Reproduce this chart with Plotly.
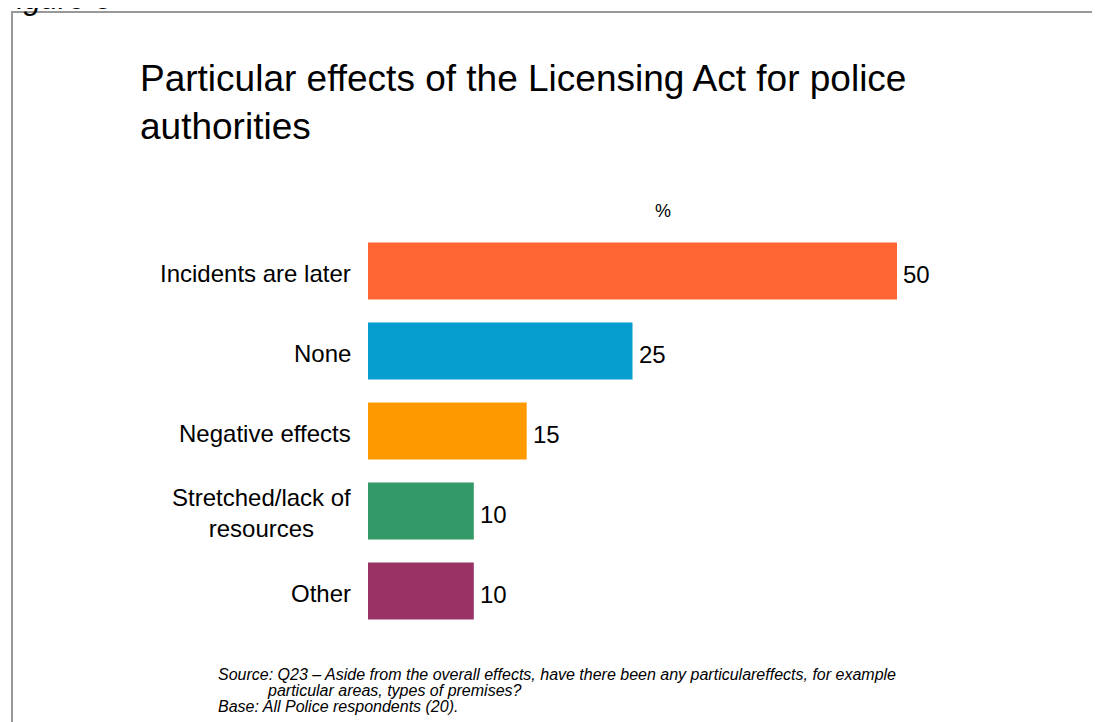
import plotly.graph_objects as go

categories = ["Incidents are later", "None", "Negative effects", "Stretched/lack of<br>resources", "Other"]
values = [50, 25, 15, 10, 10]
colors = ["#FF6633", "#069ECF", "#FF9900", "#339966", "#993366"]

title_text = "Particular effects of the Licensing Act for police<br>authorities"
source_lines = [
    "Source: Q23 \u2013 Aside from the overall effects, have there been any particulareffects, for example",
    "particular areas, types of premises?",
    "Base: All Police respondents (20).",
]

OFF = 8  # page body margin
W, H = 1092, 714
L, T = 368 - OFF, 243 - 12 - OFF
pw, ph = 632, 400
R, B = W - L - pw, H - T - ph
xmax = 50 * pw / 529.0

def px_x(sx):
    return (sx - OFF - L) / pw

def px_y(sy):
    return (T + ph - (sy - OFF)) / ph

FONT = "Liberation Sans, Arial, sans-serif"

fig = go.Figure()
fig.add_trace(go.Bar(
    x=values, y=list(range(len(categories))), orientation="h",
    marker=dict(color=colors, line=dict(width=0)),
    hoverinfo="skip",
))

annotations = []
for i, c in enumerate(categories):
    annotations.append(dict(
        x=0, y=i, xref="x", yref="y", text=c, showarrow=False,
        xanchor="right", yanchor="middle", xshift=-15, yshift=-2, align="center",
        font=dict(family=FONT, size=24, color="#000000"),
    ))
for i, v in enumerate(values):
    annotations.append(dict(
        x=v, y=i, xref="x", yref="y", text=str(v), showarrow=False,
        xanchor="left", yanchor="middle", xshift=4, yshift=-3,
        font=dict(family=FONT, size=24, color="#000000"),
    ))

annotations.append(dict(
    x=px_x(663), y=px_y(211), xref="paper", yref="paper", text="%", showarrow=False,
    xanchor="center", yanchor="middle",
    font=dict(family=FONT, size=18, color="#000000"),
))

src_font = dict(family=FONT, size=16, color="#000000")
src_pos = [(216, 674), (265, 690), (216, 706)]
for (sx, sy), line in zip(src_pos, source_lines):
    annotations.append(dict(
        x=px_x(sx), y=px_y(sy), xref="paper", yref="paper", text="<i>" + line + "</i>",
        showarrow=False, xanchor="left", yanchor="middle", font=src_font,
    ))

annotations.append(dict(
    x=px_x(-4), y=px_y(18), xref="paper", yref="paper", text="<i>Figure 3</i>",
    showarrow=False, xanchor="left", yanchor="bottom",
    font=dict(family=FONT, size=31, color="#000000"),
))

border = dict(color="#999999", width=2)
fig.update_layout(
    width=W, height=H,
    margin=dict(l=L, r=R, t=T, b=B, pad=0),
    paper_bgcolor="#FFFFFF", plot_bgcolor="#FFFFFF",
    showlegend=False,
    bargap=0.2875,
    title=dict(
        text=title_text, x=(140 - OFF) / W, xref="container", xanchor="left",
        y=1 - 83 / H, yref="container", yanchor="top",
        font=dict(family=FONT, size=37, color="#000000"),
    ),
    xaxis=dict(range=[0, xmax], visible=False, fixedrange=True),
    yaxis=dict(range=[len(categories) - 0.5, -0.5], visible=False, fixedrange=True),
    annotations=annotations,
    shapes=[
        dict(type="line", xref="paper", yref="paper",
             x0=px_x(11), x1=px_x(1300), y0=px_y(12), y1=px_y(12), line=border),
        dict(type="line", xref="paper", yref="paper",
             x0=px_x(12), x1=px_x(12), y0=px_y(11), y1=px_y(900), line=border),
    ],
)

fig.write_html("out.html")
